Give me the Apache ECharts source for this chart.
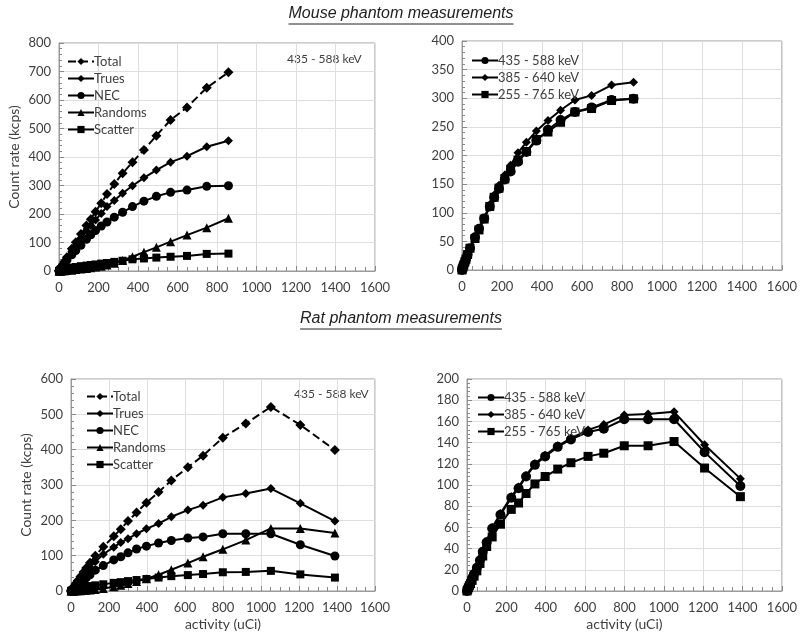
<!DOCTYPE html>
<html>
<head>
<meta charset="utf-8">
<script src="https://cdn.jsdelivr.net/npm/echarts@6/dist/echarts.min.js"></script>
<style>
  html, body { margin: 0; padding: 0; background: #fff; }
  #chart { width: 800px; height: 638px; }
</style>
</head>
<body>
<div id="chart"></div>
<script>
// mouse phantom: activity (uCi) and count rates (kcps)
const mouseActivity = [0, 2, 5, 9, 14, 20, 28, 40, 65, 85, 111, 139, 161, 185, 214, 243, 280, 322, 372, 430, 493, 565, 648, 748, 858];
const mouseTotal    = [0, 2, 6, 11, 17, 24, 33, 48, 78, 101, 130, 160, 182, 208, 238, 270, 305, 343, 382, 425, 475, 530, 574, 643, 697];
const mouseTrues    = [0, 2, 5, 10, 15, 22, 30, 43, 69, 89, 115, 141, 160, 179, 202, 226, 247, 273, 299, 327, 354, 382, 403, 436, 457];
const mouseNec      = [0, 2, 5, 9, 13, 19, 27, 38, 57, 72, 90, 111, 127, 142, 158, 172, 189, 206, 226, 245, 262, 276, 284, 297, 299];
const mouseRandoms  = [0, 0, 0, 0, 1, 1, 1, 2, 3, 5, 7, 9, 11, 14, 17, 21, 27, 37, 50, 66, 83, 103, 126, 152, 185];
const mouseScatter  = [0, 1, 2, 3, 4, 5, 7, 9, 12, 14, 17, 19, 21, 23, 26, 28, 32, 36, 41, 44, 47, 50, 53, 60, 61];
const mouseWin385   = [0, 2, 5, 9, 14, 20, 28, 38, 56, 72, 91, 114, 131, 148, 166, 183, 205, 223, 243, 261, 279, 297, 305, 323, 328];
const mouseWin255   = [0, 2, 5, 9, 14, 19, 27, 38, 55, 70, 89, 111, 127, 143, 159, 175, 192, 207, 228, 241, 258, 276, 282, 296, 299];

// rat phantom
const ratActivity = [0, 3, 7, 12, 18, 26, 36, 50, 66, 80, 100, 128, 170, 225, 262, 300, 345, 397, 461, 528, 615, 695, 799, 920, 1052, 1207, 1389];
const ratTotal    = [0, 3, 6, 10, 15, 22, 30, 41, 54, 65, 80, 100, 125, 155, 175, 198, 222, 250, 280, 313, 350, 383, 434, 474, 521, 470, 399];
const ratTrues    = [0, 2, 5, 8, 13, 19, 26, 35, 46, 55, 66, 83, 104, 124, 137, 148, 162, 176, 191, 210, 229, 243, 265, 276, 290, 248, 198];
const ratNec      = [0, 1, 3, 5, 8, 12, 16, 22, 29, 37, 46, 59, 72, 88, 97, 108, 119, 127, 136, 143, 150, 153, 162, 162, 162, 131, 99];
const ratRandoms  = [0, 0, 0, 0, 0, 1, 1, 1, 2, 2, 3, 4, 7, 12, 16, 21, 27, 35, 46, 60, 79, 97, 118, 144, 177, 177, 164];
const ratScatter  = [0, 1, 2, 3, 4, 6, 7, 9, 11, 12, 14, 16, 19, 23, 25, 28, 31, 34, 38, 42, 45, 48, 53, 54, 57, 47, 38];
const ratWin385   = [0, 1, 3, 5, 8, 12, 17, 22, 30, 38, 47, 60, 73, 89, 98, 109, 120, 128, 137, 144, 152, 157, 166, 167, 169, 138, 106];
const ratWin255   = [0, 1, 3, 5, 7, 10, 14, 19, 26, 33, 42, 51, 63, 77, 83, 92, 101, 108, 115, 121, 127, 130, 137, 137, 141, 116, 89];

const compNames = ['Total', 'Trues', 'NEC', 'Randoms', 'Scatter'];
const winNames = ['435 - 588 keV', '385 - 640 keV', '255 - 765 keV'];

const FONT = 'Lato';
const TITLE_FONT = 'italic 16px "Liberation Sans"';
const pairs = (xs, ys) => xs.map((x, i) => [x, ys[i]]);

// width of a title, so the underline fits the text
const ctx = document.createElement('canvas').getContext('2d');
const textWidth = (t) => { ctx.font = TITLE_FONT; return ctx.measureText(t).width; };

const grids = [
  { left: 59, top: 43, width: 316, height: 228 },
  { left: 462, top: 41, width: 322, height: 229 },
  { left: 71, top: 379, width: 304, height: 212 },
  { left: 467, top: 379, width: 317, height: 212 }
].map(g => Object.assign(g, { show: true, borderColor: '#9a9a9a', borderWidth: 1 }));

const xAxisOf = (gi, named) => ({
  type: 'value', gridIndex: gi, min: 0, max: 1600, interval: 200,
  name: named ? 'activity (uCi)' : '', nameLocation: 'middle', nameGap: 26,
  nameTextStyle: { fontFamily: FONT, fontSize: 14, color: '#404040' },
  axisLine: { lineStyle: { color: '#9a9a9a' } },
  axisTick: { inside: true, length: 5, lineStyle: { color: '#8a8a8a' } },
  minorTick: { show: true, splitNumber: 4, length: 4, lineStyle: { color: '#8a8a8a' } },
  axisLabel: { fontFamily: FONT, fontSize: 13, color: '#404040', margin: 10, formatter: v => String(v) },
  splitLine: { lineStyle: { color: '#dedede' } }
});
const yAxisOf = (gi, max, step, named) => ({
  type: 'value', gridIndex: gi, min: 0, max: max, interval: step,
  name: named ? 'Count rate (kcps)' : '', nameLocation: 'middle', nameGap: 38,
  nameTextStyle: { fontFamily: FONT, fontSize: 14, color: '#404040' },
  axisLine: { show: true, lineStyle: { color: '#9a9a9a' } },
  axisTick: { show: true, inside: true, length: 5, lineStyle: { color: '#8a8a8a' } },
  minorTick: { show: true, splitNumber: 5, length: 3, lineStyle: { color: '#8a8a8a' } },
  axisLabel: { fontFamily: FONT, fontSize: 13, color: '#404040', margin: 8 },
  splitLine: { lineStyle: { color: '#dedede' } }
});

const symbols = { Total: 'diamond', Trues: 'diamond', NEC: 'circle', Randoms: 'triangle', Scatter: 'rect' };
const symSize = { Total: 10, Trues: 9, NEC: 9, Randoms: 9, Scatter: 8 };

function line(name, gi, xs, ys, symbol, size, dashed) {
  return {
    name: name, type: 'line', xAxisIndex: gi, yAxisIndex: gi,
    data: pairs(xs, ys), symbol: symbol, symbolSize: size,
    showSymbol: true, animation: false,
    itemStyle: { color: '#000' },
    lineStyle: { color: '#000', width: 2, type: dashed ? 'dashed' : 'solid' }
  };
}

const mouseComp = [mouseTotal, mouseTrues, mouseNec, mouseRandoms, mouseScatter];
const ratComp = [ratTotal, ratTrues, ratNec, ratRandoms, ratScatter];

const series = [];
compNames.forEach((n, i) => series.push(line(n, 0, mouseActivity, mouseComp[i], symbols[n], symSize[n], n === 'Total')));
series.push(line(winNames[0], 1, mouseActivity, mouseNec, 'circle', 10));
series.push(line(winNames[1], 1, mouseActivity, mouseWin385, 'diamond', 9));
series.push(line(winNames[2], 1, mouseActivity, mouseWin255, 'rect', 9));
compNames.forEach((n, i) => series.push(line(n, 2, ratActivity, ratComp[i], symbols[n], symSize[n], n === 'Total')));
series.push(line(winNames[0], 3, ratActivity, ratNec, 'circle', 10));
series.push(line(winNames[1], 3, ratActivity, ratWin385, 'diamond', 9));
series.push(line(winNames[2], 3, ratActivity, ratWin255, 'rect', 9));

const legendOf = (names, left, top) => ({
  data: names, orient: 'vertical', left: left, top: top,
  itemWidth: 26, itemHeight: 9, itemGap: 4, selectedMode: false,
  textStyle: { fontFamily: FONT, fontSize: 13, color: '#404040', padding: [0, 0, 0, -5] }
});

const titleText = (text, cx, y) => {
  const w = textWidth(text);
  return {
    type: 'group', children: [
      { type: 'text', x: cx, y: y, style: { text: text, font: TITLE_FONT, fill: '#222', align: 'center', verticalAlign: 'middle' } },
      { type: 'line', shape: { x1: cx - w / 2, y1: y + 10, x2: cx + w / 2, y2: y + 10 }, style: { stroke: '#222', lineWidth: 1 } }
    ]
  };
};
const note = (text, x, y) => ({
  type: 'text', x: x, y: y,
  style: { text: text, fontFamily: FONT, fontSize: 12, fill: '#404040', verticalAlign: 'middle' }
});

const option = {
  backgroundColor: '#fff',
  grid: grids,
  xAxis: [xAxisOf(0, false), xAxisOf(1, false), xAxisOf(2, true), xAxisOf(3, true)],
  yAxis: [yAxisOf(0, 800, 100, true), yAxisOf(1, 400, 50, false), yAxisOf(2, 600, 100, true), yAxisOf(3, 200, 20, false)],
  legend: [
    legendOf(compNames, 62, 50),
    legendOf(winNames, 466, 49),
    legendOf(compNames, 81, 385),
    legendOf(winNames, 472, 386)
  ],
  graphic: [
    titleText('Mouse phantom measurements', 401, 14),
    titleText('Rat phantom measurements', 401, 319),
    note('435 - 588 keV', 287, 59),
    note('435 - 588 keV', 294, 394)
  ],
  series: series
};

const myChart = echarts.init(document.getElementById('chart'));
myChart.setOption(option);
</script>
</body>
</html>
